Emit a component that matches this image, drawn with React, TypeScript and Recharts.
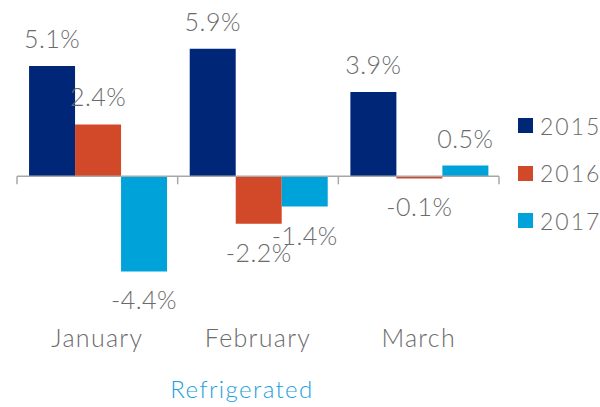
import { BarChart, Bar, XAxis, YAxis, ReferenceLine, LabelList, Label } from 'recharts';

const months = ['January', 'February', 'March'];
const y2015 = [5.1, 5.9, 3.9];
const y2016 = [2.4, -2.2, -0.1];
const y2017 = [-4.4, -1.4, 0.5];

const series = [
  { key: '2015', values: y2015, color: '#002677' },
  { key: '2016', values: y2016, color: '#D2492A' },
  { key: '2017', values: y2017, color: '#00A2DA' },
];

const chartData = months.map((m, i) => {
  const row: Record<string, string | number> = { month: m };
  series.forEach((s) => {
    row[s.key] = s.values[i];
  });
  return row;
});

const FONT = 'Lato, "Open Sans", sans-serif';
const TEXT = '#6b6b6b';

function ValueLabel(props: any) {
  const { x, y, width, height, value } = props;
  const top = Math.min(y, y + height);
  const bottom = Math.max(y, y + height);
  const cx = x + width / 2;
  const ty = value >= 0 ? top - 18 : bottom + 38;
  return (
    <text
      x={cx}
      y={ty}
      textAnchor="middle"
      fill={TEXT}
      fontSize={25}
      fontWeight={300}
      letterSpacing={0.5}
      fontFamily={FONT}
    >
      {`${Number(value).toFixed(1)}%`}
    </text>
  );
}

function ZeroLine(props: any) {
  const { x1, y1, x2 } = props;
  const n = months.length;
  const step = (x2 - x1) / n;
  const ticks = Array.from({ length: n + 1 }, (_, i) => x1 + i * step);
  return (
    <g>
      <line x1={x1} y1={y1} x2={x2} y2={y1} stroke="#a8a8a8" strokeWidth={1.5} />
      {ticks.map((tx, i) => (
        <line key={i} x1={tx} y1={y1} x2={tx} y2={y1 + 8} stroke="#a8a8a8" strokeWidth={1.5} />
      ))}
    </g>
  );
}

export default function App() {
  return (
    <div style={{ position: 'absolute', left: 0, top: 0, width: 600, height: 407, background: '#fff' }}>
      <BarChart
        width={600}
        height={407}
        data={chartData}
        margin={{ top: 25, right: 101, left: 17, bottom: 0 }}
        barCategoryGap="7.5%"
        barGap={0}
      >
        <YAxis hide domain={[-6, 7]} />
        <XAxis
          dataKey="month"
          height={101}
          axisLine={false}
          tickLine={false}
          tickMargin={17}
          tick={{ fill: TEXT, fontSize: 25, fontWeight: 300, letterSpacing: 1.3, fontFamily: FONT }}
        >
          <Label
            value="Refrigerated"
            position="insideBottom"
            offset={9}
            dx={-16}
            fill="#1BA1DB"
            fontSize={24}
            fontWeight={300}
            letterSpacing={1.4}
            fontFamily={FONT}
          />
        </XAxis>
        <ReferenceLine y={0} shape={<ZeroLine />} ifOverflow="visible" />
        {series.map((s) => (
          <Bar key={s.key} dataKey={s.key} fill={s.color} isAnimationActive={false}>
            <LabelList dataKey={s.key} content={<ValueLabel />} />
          </Bar>
        ))}
      </BarChart>
      <div style={{ position: 'absolute', left: 518, top: 102, fontFamily: FONT }}>
        {series.map((s) => (
          <div key={s.key} style={{ display: 'flex', alignItems: 'center', height: 47.5 }}>
            <div style={{ width: 15, height: 15, background: s.color, marginRight: 7 }} />
            <span style={{ fontSize: 23, fontWeight: 300, letterSpacing: 2, color: TEXT }}>{s.key}</span>
          </div>
        ))}
      </div>
    </div>
  );
}
